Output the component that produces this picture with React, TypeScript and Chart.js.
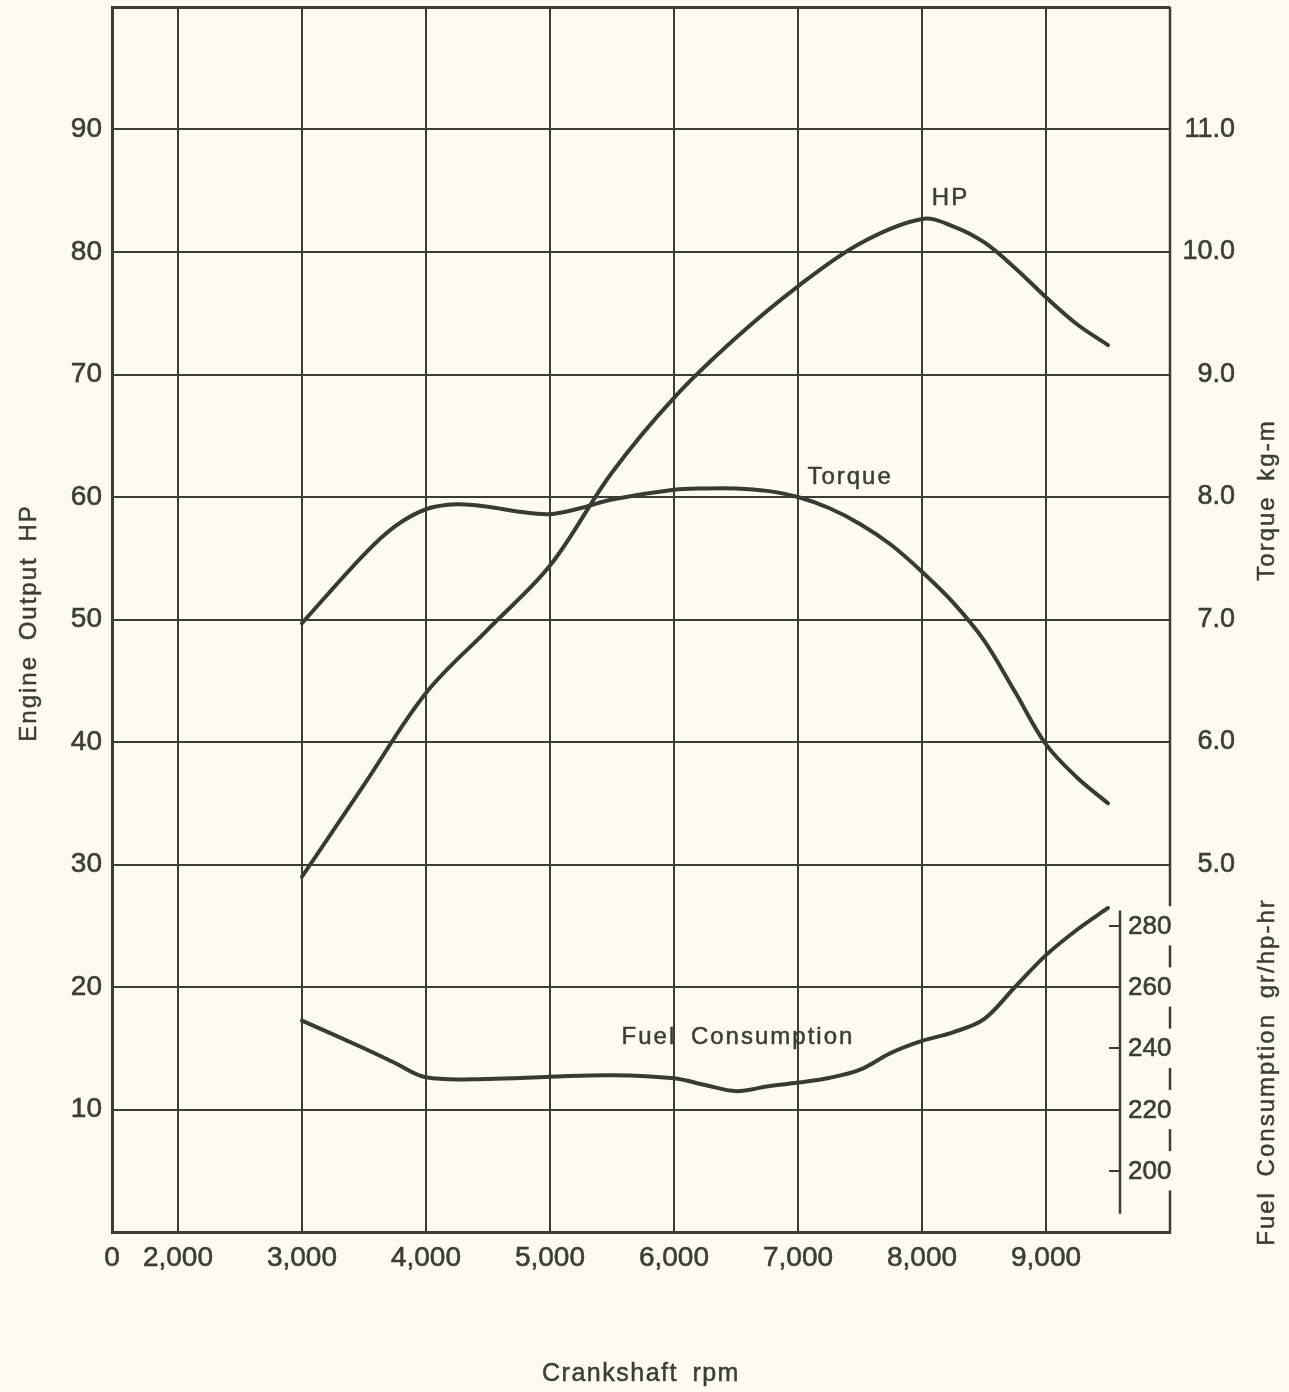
import React, { useEffect, useRef } from "react";
import { Chart, registerables } from "chart.js";

Chart.register(...registerables);

// ---------------- data ----------------
const RPM_AXIS_START = 1468; // left edge of the broken rpm axis, labelled "0"
const RPM_AXIS_END = 10000;
const rpmTicks = [2000, 3000, 4000, 5000, 6000, 7000, 8000, 9000];
const hpTicks = [10, 20, 30, 40, 50, 60, 70, 80, 90];
const torqueTicks = [5, 6, 7, 8, 9, 10, 11];
const fuelTicks = [200, 220, 240, 260, 280];
const FUEL_AXIS_RPM = 9600;

const hpRpm = [3000, 3500, 4000, 4500, 5000, 5500, 6000, 6500, 7000, 7500, 8000, 8250, 8500, 8750, 9000, 9250, 9500];
const hpValues = [29.0, 36.5, 44.0, 49.2, 54.4, 62.0, 68.1, 73.0, 77.2, 80.7, 82.7, 82.1, 80.8, 78.7, 76.3, 74.1, 72.4];

const torqueRpm = [3000, 3500, 3750, 4000, 4250, 4500, 4750, 5000, 5250, 5500, 6000, 6250, 6500, 6750, 7000, 7250, 7500, 7750, 8000, 8250, 8500, 8750, 9000, 9250, 9500];
const torqueValues = [6.97, 7.53, 7.76, 7.9, 7.94, 7.92, 7.88, 7.86, 7.91, 7.98, 8.06, 8.07, 8.07, 8.05, 8.0, 7.91, 7.78, 7.61, 7.39, 7.14, 6.83, 6.41, 5.98, 5.71, 5.5];

const fuelRpm = [3000, 3500, 3750, 4000, 4500, 5000, 5500, 6000, 6250, 6500, 6750, 7000, 7250, 7500, 7750, 8000, 8250, 8500, 8750, 9000, 9250, 9500];
const fuelValues = [249, 240, 235.2, 230.5, 230, 230.7, 231.2, 230.2, 228, 226, 227.5, 228.8, 230.3, 233, 238.5, 242.4, 245.2, 249.5, 260, 270.4, 278.7, 285.8];

// ---------------- styles ----------------
const BG = "#fcfbf2";
const LINE = "#3b3d36";
const CURVE = "#383b33";
const TEXT = "#3c3d37";
const FAMILY = '"Liberation Sans", Arial, sans-serif';
const font = (s: number) => `${s}px ${FAMILY}`;

const toPts = (xs: number[], ys: number[]) => xs.map((x, i) => ({ x, y: ys[i] }));

const decorPlugin = {
  id: "decor",
  beforeDatasetsDraw(chart: any) {
    const { ctx, chartArea: area, scales } = chart;
    const xs = scales.x, ys = scales.y, yf = scales.yF;
    const line = (x1: number, y1: number, x2: number, y2: number) => {
      ctx.beginPath();
      ctx.moveTo(x1, y1);
      ctx.lineTo(x2, y2);
      ctx.stroke();
    };
    ctx.save();
    ctx.strokeStyle = LINE;
    ctx.lineCap = "butt";
    const fx = Math.round(xs.getPixelForValue(FUEL_AXIS_RPM));
    // HP grid lines 10 and 20 stop at the fuel axis
    ctx.lineWidth = 2;
    for (const v of [10, 20]) {
      const py = Math.round(ys.getPixelForValue(v));
      line(area.left, py, fx, py);
    }
    // fuel axis spine and ticks
    ctx.lineWidth = 2.5;
    line(fx, yf.getPixelForValue(285), fx, yf.getPixelForValue(186));
    ctx.lineWidth = 2;
    for (const v of [200, 240, 280]) {
      const py = Math.round(yf.getPixelForValue(v));
      line(fx - 11, py, fx, py);
    }
    // right border, broken around the fuel labels
    const rx = Math.round(xs.getPixelForValue(RPM_AXIS_END));
    ctx.lineWidth = 2.5;
    const gap = 6.4;
    let top = yf.max;
    const sorted = [...fuelTicks].sort((a, b) => b - a);
    for (const v of sorted) {
      line(rx, yf.getPixelForValue(top), rx, yf.getPixelForValue(v + gap));
      top = v - gap;
    }
    line(rx, yf.getPixelForValue(top), rx, yf.getPixelForValue(yf.min) + 1);
    // fuel labels
    ctx.fillStyle = TEXT;
    ctx.strokeStyle = TEXT;
    ctx.lineWidth = 0.6;
    ctx.font = font(26);
    ctx.textAlign = "left";
    ctx.textBaseline = "middle";
    for (const v of fuelTicks) {
      const py = yf.getPixelForValue(v) + 1;
      ctx.fillText(String(v), fx + 8, py);
      ctx.strokeText(String(v), fx + 8, py);
    }
    ctx.restore();
  },
  afterDatasetsDraw(chart: any) {
    const { ctx, scales } = chart;
    const xs = scales.x, ys = scales.y, yf = scales.yF, yt = scales.yT;
    ctx.save();
    ctx.fillStyle = TEXT;
    ctx.strokeStyle = TEXT;
    ctx.lineWidth = 0.5;
    ctx.font = font(24);
    (ctx as any).letterSpacing = "2px";
    (ctx as any).wordSpacing = "6px";
    ctx.textAlign = "center";
    ctx.textBaseline = "middle";
    const text = (t: string, x: number, y: number) => {
      ctx.fillText(t, x, y);
      ctx.strokeText(t, x, y);
    };
    const rotated = (cx: number, cy: number, t: string) => {
      ctx.save();
      ctx.translate(cx, cy);
      ctx.rotate(-Math.PI / 2);
      text(t, 0, 0);
      ctx.restore();
    };
    rotated(29, 623, "Engine Output HP");
    rotated(1267, 500, "Torque kg-m");
    rotated(1267, 1072, "Fuel Consumption gr/hp-hr");
    ctx.font = font(25);
    (ctx as any).letterSpacing = "1.5px";
    text("Crankshaft rpm", 641, 1374);
    ctx.font = font(24);
    (ctx as any).letterSpacing = "2px";
    text("HP", xs.getPixelForValue(8230), ys.getPixelForValue(84.4));
    text("Torque", xs.getPixelForValue(7420), yt.getPixelForValue(8.16));
    text("Fuel Consumption", xs.getPixelForValue(6516), yf.getPixelForValue(243.4));
    ctx.restore();
  },
};

export default function App() {
  const ref = useRef<HTMLCanvasElement>(null);
  useEffect(() => {
    const canvas = ref.current;
    if (!canvas) return;
    const curve = (data: any[], axis: string) => ({
      data,
      yAxisID: axis,
      borderColor: CURVE,
      borderWidth: 4,
      pointRadius: 0,
      fill: false,
      tension: 0.35,
      borderCapStyle: "round" as const,
      borderJoinStyle: "round" as const,
    });
    const tickFont = (size: number) => ({ family: FAMILY, size });
    const chart = new Chart(canvas, {
      type: "line",
      data: {
        datasets: [
          { label: "HP", ...curve(toPts(hpRpm, hpValues), "y") },
          { label: "Torque", ...curve(toPts(torqueRpm, torqueValues), "yT") },
          { label: "Fuel Consumption", ...curve(toPts(fuelRpm, fuelValues), "yF") },
        ],
      },
      options: {
        animation: false,
        responsive: false,
        devicePixelRatio: 1,
        layout: { padding: { top: 7, left: 0, right: 54, bottom: 0 } },
        plugins: { legend: { display: false }, tooltip: { enabled: false } },
        scales: {
          x: {
            type: "linear",
            position: "bottom",
            min: RPM_AXIS_START,
            max: RPM_AXIS_END,
            afterBuildTicks: (s: any) => {
              s.ticks = [RPM_AXIS_START, ...rpmTicks, RPM_AXIS_END].map((value) => ({ value }));
            },
            afterFit: (s: any) => {
              s.height = 160;
              s.paddingLeft = 0;
              s.paddingRight = 0;
            },
            ticks: {
              autoSkip: false,
              maxRotation: 0,
              padding: 9,
              color: TEXT,
              textStrokeColor: TEXT,
              textStrokeWidth: 0.6,
              font: tickFont(28),
              callback: (v: any) =>
                v === RPM_AXIS_START ? "0" : v === RPM_AXIS_END ? "" : Number(v).toLocaleString("en-US"),
            },
            grid: {
              drawTicks: false,
              lineWidth: 2,
              color: (c: any) =>
                c.tick && (c.tick.value === RPM_AXIS_START || c.tick.value === RPM_AXIS_END) ? "rgba(0,0,0,0)" : LINE,
            },
            border: { display: true, color: LINE, width: 3 },
          },
          y: {
            type: "linear",
            position: "left",
            min: 0,
            max: 100,
            afterBuildTicks: (s: any) => {
              s.ticks = [0, ...hpTicks, 100].map((value) => ({ value }));
            },
            afterFit: (s: any) => {
              s.width = 112;
              s.paddingTop = 0;
              s.paddingBottom = 0;
            },
            ticks: {
              autoSkip: false,
              padding: 10,
              color: TEXT,
              textStrokeColor: TEXT,
              textStrokeWidth: 0.6,
              font: tickFont(28),
              callback: (v: any) => (hpTicks.includes(Number(v)) ? String(v) : ""),
            },
            grid: {
              drawTicks: false,
              lineWidth: (c: any) => (c.tick && (c.tick.value === 0 || c.tick.value === 100) ? 3 : 2),
              color: (c: any) =>
                c.tick && (c.tick.value === 10 || c.tick.value === 20) ? "rgba(0,0,0,0)" : LINE,
            },
            border: { display: true, color: LINE, width: 3 },
          },
          yT: {
            type: "linear",
            position: "right",
            min: 2,
            max: 12,
            afterBuildTicks: (s: any) => {
              s.ticks = torqueTicks.map((value) => ({ value }));
            },
            afterFit: (s: any) => {
              s.width = 65;
              s.paddingTop = 0;
              s.paddingBottom = 0;
            },
            ticks: {
              autoSkip: false,
              padding: 10,
              crossAlign: "far",
              color: TEXT,
              textStrokeColor: TEXT,
              textStrokeWidth: 0.6,
              font: tickFont(27),
              callback: (v: any) => Number(v).toFixed(1),
            },
            grid: { display: false, drawTicks: false },
            border: { display: false },
          },
          yF: {
            type: "linear",
            position: "right",
            display: false,
            min: 180,
            max: 580,
          },
        },
      },
      plugins: [decorPlugin],
    } as any);
    return () => chart.destroy();
  }, []);
  return (
    <div style={{ position: "absolute", left: 0, top: 0, width: 1289, height: 1392, background: BG }}>
      <canvas ref={ref} width={1289} height={1392} style={{ display: "block" }} />
    </div>
  );
}
